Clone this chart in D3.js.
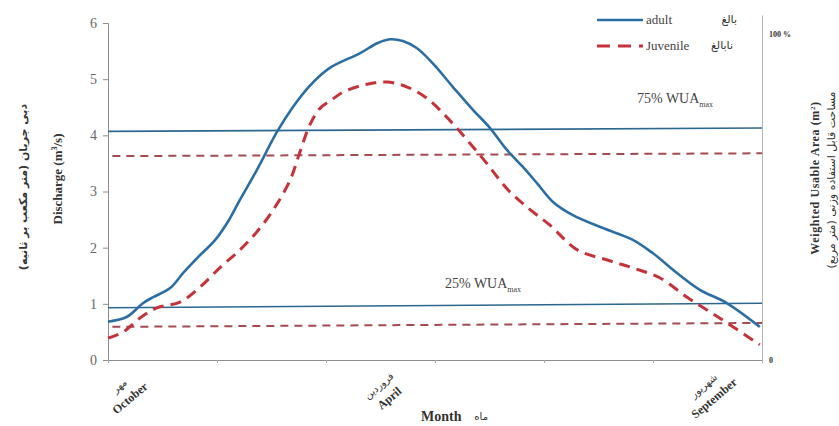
<!DOCTYPE html>
<html>
<head>
<meta charset="utf-8">
<script src="https://cdn.jsdelivr.net/npm/d3@7/dist/d3.min.js"></script>
<style>
  html, body { margin: 0; padding: 0; background: #fff; }
  svg { display: block; }
</style>
</head>
<body>
<svg id="chart" width="839" height="426"></svg>
<script>
// Discharge (m3/s) over the water year, Oct .. Sep (x in months from start of October)
const adultMonth = [0.00,0.35,0.64,0.83,1.14,1.38,1.63,1.96,2.18,2.42,2.73,3.10,3.39,3.71,4.07,4.62,4.94,5.17,5.41,5.67,5.96,6.33,6.70,7.01,7.32,7.60,7.87,8.17,8.53,9.08,9.63,10.00,10.44,10.86,11.36,11.96];
const adultFlow  = [0.68,0.77,1.01,1.12,1.28,1.55,1.81,2.13,2.43,2.85,3.38,4.06,4.50,4.89,5.20,5.46,5.64,5.71,5.68,5.55,5.28,4.86,4.45,4.13,3.74,3.45,3.15,2.81,2.58,2.35,2.14,1.90,1.55,1.25,1.01,0.59];

const juvenileMonth = [0.00,0.28,0.59,0.90,1.32,1.69,2.06,2.42,2.73,3.03,3.34,3.52,3.71,3.89,4.13,4.31,4.75,5.12,5.49,5.85,6.15,6.40,6.64,6.95,7.32,7.69,8.11,8.61,9.16,9.63,10.13,10.62,10.99,11.36,11.96];
const juvenileFlow  = [0.39,0.50,0.75,0.93,1.03,1.30,1.65,1.96,2.28,2.67,3.20,3.70,4.20,4.48,4.65,4.77,4.91,4.95,4.86,4.66,4.39,4.13,3.86,3.50,3.05,2.72,2.40,1.96,1.78,1.64,1.46,1.12,0.89,0.66,0.27];

// Flow thresholds giving 75% and 25% of the maximum WUA (start / end of the year)
const adult75Month = [0, 12],      adult75Flow = [4.07, 4.13];
const juvenile75Month = [0.08, 12], juvenile75Flow = [3.63, 3.68];
const adult25Month = [0, 12],      adult25Flow = [0.93, 1.01];
const juvenile25Month = [0.08, 12], juvenile25Flow = [0.59, 0.66];

// Axis ticks and labels
const flowTicks = [0, 1, 2, 3, 4, 5, 6];
const monthTicks = [0, 2, 4, 6, 8, 10, 12];
const monthLabelPos = [0.40, 5.16, 11.12];
const monthLabelFa = ["مهر", "فروردین", "شهریور"];
const monthLabelEn = ["October", "April", "September"];
const wuaTicks = [0, 100];
const wuaTickLabels = ["0", "100 %"];

const svg = d3.select("#chart");
const serif = "'Liberation Serif', 'Times New Roman', serif";
const arabic = "'DejaVu Sans', sans-serif";

const x = d3.scaleLinear().domain([0, 12]).range([108, 762]);
const y = d3.scaleLinear().domain([0, 6]).range([360, 23]);
const yr = d3.scaleLinear().domain([0, 105.5]).range([360, 15]);

const axisGray = "#8c8c8c";
const blue = "#2b6ea4";
const red = "#c5323a";
const blueThin = "#2c678f";
const redThin = "#a44a52";

// Left axis
const gl = svg.append("g").attr("transform", `translate(${x(0)},0)`)
  .call(d3.axisLeft(y).tickValues(flowTicks).tickSize(5).tickPadding(6).tickFormat(d3.format("d")));
gl.select(".domain").attr("stroke", axisGray);
gl.selectAll(".tick line").attr("stroke", axisGray);
gl.selectAll(".tick text").style("fill", "#666").style("font-family", serif).style("font-size", "14px");

// Bottom axis
const gb = svg.append("g").attr("transform", `translate(0,${y(0)})`)
  .call(d3.axisBottom(x).tickValues(monthTicks).tickSize(3).tickFormat(""));
gb.select(".domain").attr("stroke", axisGray);
gb.selectAll(".tick line").attr("stroke", "#aaa");

// Right axis (WUA percent)
const gr = svg.append("g").attr("transform", `translate(${x(12)},0)`)
  .call(d3.axisRight(yr).tickValues(wuaTicks).tickSize(0).tickPadding(7)
    .tickFormat((d, i) => wuaTickLabels[i]));
gr.select(".domain").attr("stroke", "#b5b5b5");
gr.selectAll(".tick text").style("fill", "#333").style("font-family", serif)
  .style("font-size", "8px").style("font-weight", "bold");
gr.selectAll(".tick").filter(d => d === 100).select("text").attr("dy", "0.4em");

// Threshold lines
const pairs = (ms, vs) => ms.map((m, i) => [m, vs[i]]);
const straight = d3.line().x(d => x(d[0])).y(d => y(d[1]));

svg.append("path").datum(pairs(adult75Month, adult75Flow)).attr("d", straight)
  .attr("fill", "none").attr("stroke", blueThin).attr("stroke-width", 1.6);
svg.append("path").datum(pairs(juvenile75Month, juvenile75Flow)).attr("d", straight)
  .attr("fill", "none").attr("stroke", redThin).attr("stroke-width", 2).attr("stroke-dasharray", "8,6");
svg.append("path").datum(pairs(adult25Month, adult25Flow)).attr("d", straight)
  .attr("fill", "none").attr("stroke", blueThin).attr("stroke-width", 1.6);
svg.append("path").datum(pairs(juvenile25Month, juvenile25Flow)).attr("d", straight)
  .attr("fill", "none").attr("stroke", redThin).attr("stroke-width", 2).attr("stroke-dasharray", "8,6");

// Hydrographs
const smooth = d3.line().x(d => x(d[0])).y(d => y(d[1])).curve(d3.curveCatmullRom.alpha(0.5));
svg.append("path").datum(pairs(adultMonth, adultFlow)).attr("d", smooth)
  .attr("fill", "none").attr("stroke", blue).attr("stroke-width", 2.6);
svg.append("path").datum(pairs(juvenileMonth, juvenileFlow)).attr("d", smooth)
  .attr("fill", "none").attr("stroke", red).attr("stroke-width", 3).attr("stroke-dasharray", "11,7");

// WUA threshold captions
function wuaLabel(px, py, pct) {
  const t = svg.append("text").attr("x", px).attr("y", py)
    .style("font-family", serif).style("font-size", "14px").style("fill", "#444");
  t.append("tspan").text(pct + "% WUA");
  t.append("tspan").style("font-size", "8px").attr("dy", 4).text("max");
}
wuaLabel(637, 103, 75);
wuaLabel(445, 288, 25);

// Legend
const leg = svg.append("g");
leg.append("line").attr("x1", 597).attr("x2", 643).attr("y1", 20).attr("y2", 20)
  .attr("stroke", blue).attr("stroke-width", 2.6);
leg.append("line").attr("x1", 597).attr("x2", 643).attr("y1", 46).attr("y2", 46)
  .attr("stroke", red).attr("stroke-width", 3).attr("stroke-dasharray", "13,8");
leg.append("text").attr("x", 646).attr("y", 24).style("font-family", serif).style("font-size", "13px")
  .style("fill", "#444").text("adult");
leg.append("text").attr("x", 646).attr("y", 50).style("font-family", serif).style("font-size", "13px")
  .style("fill", "#444").text("Juvenile");
leg.append("text").attr("x", 737).attr("y", 23).attr("text-anchor", "end").style("font-family", arabic)
  .style("font-size", "11px").style("fill", "#333").text("بالغ");
leg.append("text").attr("x", 733).attr("y", 49).attr("text-anchor", "end").style("font-family", arabic)
  .style("font-size", "11px").style("fill", "#333").text("نابالغ");

// Month labels (Persian above English), slanted
monthLabelPos.forEach((p, i) => {
  const g = svg.append("g").attr("transform", `translate(${x(p)},398) rotate(-40)`);
  g.append("text").attr("text-anchor", "middle").attr("dy", "0.35em").attr("y", -16)
    .style("font-family", arabic).style("font-size", "10px").style("fill", "#333").text(monthLabelFa[i]);
  g.append("text").attr("text-anchor", "middle").attr("dy", "0.35em")
    .style("font-family", serif).style("font-size", "12px").style("font-weight", "bold")
    .style("fill", "#333").text(monthLabelEn[i]);
});

// Axis titles
svg.append("text").attr("x", 421).attr("y", 421).style("font-family", serif).style("font-size", "14px")
  .style("font-weight", "bold").style("fill", "#333").text("Month");
svg.append("text").attr("x", 488).attr("y", 420).attr("text-anchor", "end").style("font-family", arabic)
  .style("font-size", "10px").style("fill", "#333").text("ماه");

const leftTitle = svg.append("text").attr("transform", "translate(62,179) rotate(-90)")
  .attr("text-anchor", "middle").style("font-family", serif).style("font-size", "13px")
  .style("font-weight", "bold").style("fill", "#333");
leftTitle.append("tspan").text("Discharge (m");
leftTitle.append("tspan").style("font-size", "8px").attr("dy", -5).text("3");
leftTitle.append("tspan").attr("dy", 5).text("/s)");

svg.append("text").attr("transform", "translate(27,187) rotate(-90)")
  .attr("text-anchor", "middle").style("font-family", arabic).style("font-size", "11px")
  .style("font-weight", "bold").style("fill", "#333").text("دبی جریان (متر مکعب بر ثانیه)");

const rightTitle = svg.append("text").attr("transform", "translate(819,178) rotate(-90)")
  .attr("text-anchor", "middle").style("font-family", serif).style("font-size", "12px")
  .style("font-weight", "bold").style("fill", "#333").style("letter-spacing", "0.6px");
rightTitle.append("tspan").text("Weighted Usable Area  (m");
rightTitle.append("tspan").style("font-size", "7px").attr("dy", -4).text("2");
rightTitle.append("tspan").attr("dy", 4).text(")");

svg.append("text").attr("transform", "translate(835,180) rotate(-90)")
  .attr("text-anchor", "middle").style("font-family", arabic).style("font-size", "11px")
  .style("fill", "#333").text("مساحت قابل استفاده وزنی (متر مربع)");
</script>
</body>
</html>
